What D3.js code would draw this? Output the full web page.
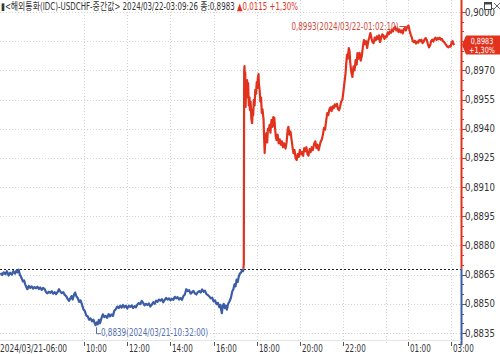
<!DOCTYPE html>
<html>
<head>
<meta charset="utf-8">
<script src="https://cdn.jsdelivr.net/npm/d3@7"></script>
<style>
  body { margin: 0; background: #fff; }
  svg { display: block; }
  text { font-family: "Liberation Sans Narrow", "DejaVu Sans Condensed", "Noto Sans CJK KR", sans-serif; font-size: 10px; }
</style>
</head>
<body>
<svg id="chart" width="500" height="354"></svg>
<script>
// 시각 (06시 이전은 22일)
var times = [
  "06:07","06:12","06:16","06:21","06:25","06:30","06:34","06:39","06:43","06:48","06:52","06:55","06:58","07:01","07:04","07:07","07:10","07:13","07:16","07:19",
  "07:22","07:26","07:30","07:34","07:38","07:42","07:46","07:50","07:54","07:58","08:02","08:06","08:10","08:14","08:18","08:22","08:26","08:30","08:34","08:38",
  "08:42","08:46","08:50","08:54","08:58","09:02","09:06","09:10","09:14","09:18","09:22","09:25","09:28","09:32","09:35","09:38","09:42","09:46","09:50","09:54",
  "09:58","10:02","10:06","10:10","10:14","10:18","10:22","10:26","10:29","10:32","10:35","10:38","10:41","10:44","10:48","10:52","10:56","11:00","11:04","11:08",
  "11:12","11:16","11:20","11:24","11:28","11:32","11:36","11:40","11:44","11:48","11:52","11:56","12:00","12:04","12:08","12:12","12:16","12:20","12:24","12:28",
  "12:32","12:36","12:40","12:44","12:48","12:52","12:56","13:00","13:04","13:08","13:12","13:16","13:20","13:24","13:28","13:32","13:36","13:40","13:44","13:48",
  "13:52","13:56","14:00","14:04","14:08","14:12","14:16","14:20","14:24","14:28","14:32","14:36","14:40","14:44","14:48","14:52","14:56","15:00","15:04","15:08",
  "15:12","15:16","15:20","15:24","15:28","15:32","15:36","15:40","15:44","15:48","15:52","15:56","16:00","16:04","16:08","16:12","16:16","16:19","16:21","16:23",
  "16:25","16:28","16:31","16:34","16:37","16:40","16:44","16:48","16:52","16:55","16:58","17:01","17:04","17:07","17:10","17:13","17:16","17:19","17:22","17:24",
  "17:25","17:26","17:27","17:28","17:29","17:30","17:32","17:33","17:35","17:36","17:38","17:40","17:41","17:43","17:45","17:47","17:49","17:50","17:52","17:54",
  "17:56","17:58","18:00","18:02","18:03","18:05","18:06","18:08","18:10","18:12","18:14","18:16","18:19","18:20","18:22","18:24","18:27","18:29","18:31","18:33",
  "18:36","18:38","18:41","18:44","18:46","18:49","18:51","18:53","18:55","18:58","19:01","19:04","19:07","19:10","19:13","19:16","19:20","19:23","19:26","19:28",
  "19:31","19:34","19:37","19:40","19:42","19:45","19:48","19:51","19:54","19:57","20:00","20:03","20:06","20:09","20:12","20:15","20:18","20:21","20:24","20:27",
  "20:30","20:33","20:36","20:40","20:43","20:46","20:49","20:52","20:55","20:58","21:01","21:04","21:07","21:10","21:13","21:16","21:19","21:22","21:25","21:28",
  "21:31","21:34","21:37","21:40","21:43","21:46","21:49","21:52","21:55","21:58","22:01","22:04","22:07","22:09","22:11","22:13","22:16","22:18","22:20","22:23",
  "22:26","22:29","22:32","22:35","22:38","22:40","22:43","22:46","22:49","22:52","22:55","22:58","23:01","23:04","23:07","23:10","23:13","23:16","23:19","23:22",
  "23:25","23:28","23:31","23:34","23:37","23:40","23:43","23:46","23:49","23:52","23:55","23:58","00:01","00:04","00:07","00:10","00:13","00:16","00:19","00:22",
  "00:25","00:28","00:31","00:34","00:37","00:40","00:43","00:46","00:49","00:52","00:55","00:58","01:02","01:05","01:08","01:11","01:14","01:17","01:20","01:23",
  "01:26","01:29","01:32","01:35","01:38","01:41","01:44","01:47","01:50","01:53","01:56","01:59","02:02","02:05","02:08","02:11","02:14","02:17","02:20","02:23",
  "02:26","02:29","02:32","02:35","02:38","02:41","02:44","02:47","02:50","02:53","02:56","02:59","03:02","03:05","03:07","03:09"
];
var prices = [
  0.88658,0.88648,0.88662,0.88652,0.88668,0.88645,0.88660,0.88650,0.88668,0.88655,0.88672,0.88662,0.88676,0.88650,0.88640,0.88628,0.88615,0.88620,0.88600,0.88588,
  0.88575,0.88592,0.88582,0.88590,0.88578,0.88586,0.88580,0.88588,0.88576,0.88584,0.88572,0.88582,0.88576,0.88560,0.88554,0.88562,0.88556,0.88565,0.88552,0.88560,
  0.88550,0.88560,0.88575,0.88562,0.88555,0.88560,0.88546,0.88540,0.88525,0.88515,0.88530,0.88540,0.88522,0.88548,0.88558,0.88540,0.88530,0.88510,0.88518,0.88496,
  0.88472,0.88462,0.88440,0.88435,0.88418,0.88425,0.88410,0.88418,0.88402,0.88390,0.88405,0.88395,0.88418,0.88400,0.88425,0.88446,0.88432,0.88438,0.88428,0.88447,
  0.88436,0.88445,0.88438,0.88465,0.88472,0.88486,0.88478,0.88490,0.88480,0.88494,0.88482,0.88490,0.88476,0.88490,0.88484,0.88492,0.88478,0.88488,0.88482,0.88496,
  0.88504,0.88498,0.88515,0.88505,0.88492,0.88500,0.88494,0.88502,0.88486,0.88495,0.88508,0.88500,0.88516,0.88510,0.88522,0.88516,0.88524,0.88508,0.88520,0.88530,
  0.88522,0.88528,0.88518,0.88526,0.88520,0.88536,0.88528,0.88534,0.88522,0.88530,0.88520,0.88540,0.88548,0.88575,0.88565,0.88570,0.88552,0.88560,0.88566,0.88554,
  0.88548,0.88560,0.88565,0.88558,0.88574,0.88562,0.88568,0.88550,0.88545,0.88538,0.88528,0.88532,0.88512,0.88518,0.88498,0.88505,0.88482,0.88495,0.88470,0.88452,
  0.88485,0.88500,0.88478,0.88490,0.88470,0.88498,0.88512,0.88530,0.88565,0.88575,0.88600,0.88590,0.88625,0.88612,0.88640,0.88655,0.88660,0.88672,0.88668,0.88705,
  0.89700,0.89722,0.89600,0.89690,0.89512,0.89620,0.89560,0.89650,0.89580,0.89635,0.89520,0.89560,0.89496,0.89540,0.89450,0.89429,0.89500,0.89470,0.89548,0.89520,
  0.89600,0.89580,0.89640,0.89610,0.89660,0.89681,0.89630,0.89599,0.89540,0.89560,0.89481,0.89500,0.89445,0.89380,0.89275,0.89350,0.89378,0.89330,0.89400,0.89393,
  0.89420,0.89380,0.89445,0.89410,0.89460,0.89455,0.89400,0.89360,0.89342,0.89370,0.89325,0.89345,0.89318,0.89335,0.89305,0.89325,0.89298,0.89330,0.89395,0.89410,
  0.89370,0.89385,0.89340,0.89300,0.89275,0.89290,0.89250,0.89239,0.89270,0.89255,0.89292,0.89268,0.89280,0.89260,0.89300,0.89285,0.89305,0.89270,0.89262,0.89295,
  0.89280,0.89305,0.89290,0.89325,0.89335,0.89300,0.89318,0.89290,0.89312,0.89335,0.89345,0.89370,0.89405,0.89395,0.89440,0.89480,0.89470,0.89500,0.89510,0.89490,
  0.89515,0.89505,0.89525,0.89515,0.89528,0.89500,0.89495,0.89515,0.89540,0.89548,0.89590,0.89640,0.89686,0.89740,0.89780,0.89760,0.89815,0.89800,0.89740,0.89690,
  0.89666,0.89720,0.89700,0.89753,0.89730,0.89789,0.89760,0.89790,0.89750,0.89772,0.89820,0.89856,0.89835,0.89850,0.89815,0.89850,0.89870,0.89892,0.89865,0.89845,
  0.89840,0.89868,0.89855,0.89875,0.89860,0.89880,0.89846,0.89868,0.89885,0.89880,0.89862,0.89875,0.89870,0.89895,0.89885,0.89900,0.89893,0.89910,0.89900,0.89918,
  0.89924,0.89905,0.89915,0.89898,0.89910,0.89895,0.89905,0.89890,0.89912,0.89918,0.89905,0.89922,0.89930,0.89905,0.89885,0.89870,0.89850,0.89845,0.89852,0.89838,
  0.89848,0.89842,0.89856,0.89850,0.89858,0.89840,0.89846,0.89860,0.89866,0.89855,0.89835,0.89818,0.89828,0.89850,0.89858,0.89848,0.89862,0.89868,0.89856,0.89866,
  0.89860,0.89868,0.89858,0.89862,0.89850,0.89845,0.89838,0.89830,0.89822,0.89818,0.89825,0.89822,0.89845,0.89850,0.89836,0.89830
];
var prevClose = 0.8868;
var yTicks = [0.8835,0.8850,0.8865,0.8880,0.8895,0.8910,0.8925,0.8940,0.8955,0.8970,0.8985,0.9000];
var xTickTimes = ["10:00","12:00","14:00","16:00","18:00","20:00","22:00","01:00","03:00"];
var xGridTimes = ["10:00","12:00","14:00","16:00","18:00","20:00","22:00","00:00","01:00","03:00"];

var RED = "#e2321e", BLUE = "#3b5ca6";
var fullParse = d3.timeParse("%d %H:%M");
function parse(s){ return fullParse((+s.slice(0, 2) < 6 ? "22 " : "21 ") + s); }
var fmt = function(v){ return d3.format(".4f")(v).replace(".", ","); };

// 좁은 글꼴 흉내 (가로 압축)
function put(g, px, py, k, str, anchor){
  return g.append("text")
    .attr("transform", "translate(" + px + "," + py + ") scale(" + k + ",1)")
    .attr("text-anchor", anchor || "start")
    .text(str);
}

var data = times.map(function(t, i){ return {t: parse(t), v: prices[i]}; });

var svg = d3.select("#chart");
var axisX = 461, plotBottom = 345;

var x = d3.scaleTime()
  .domain([parse("06:06"), parse("03:28")])
  .range([0, axisX]);
var y = d3.scaleLinear().domain([0.8835, 0.9000]).range([333, 12]);

var last = data[data.length - 1], ly = Math.round(y(last.v));

// grid
var grid = svg.append("g").attr("stroke", "#d4d4d4").attr("stroke-dasharray", "1,2");
grid.selectAll("line.h").data(yTicks).enter().append("line")
  .attr("x1", 0).attr("x2", axisX)
  .attr("y1", function(d){ return Math.round(y(d)) + 0.5; })
  .attr("y2", function(d){ return Math.round(y(d)) + 0.5; });
grid.selectAll("line.v").data(xGridTimes).enter().append("line")
  .attr("y1", 0).attr("y2", plotBottom)
  .attr("x1", function(d){ return Math.round(x(parse(d))) + 0.5; })
  .attr("x2", function(d){ return Math.round(x(parse(d))) + 0.5; });

// 전일종가 기준선
var yPrev = Math.round(y(prevClose)) + 0.5;
svg.append("line").attr("x1", 0).attr("x2", axisX).attr("y1", yPrev).attr("y2", yPrev)
  .attr("stroke", "#222").attr("stroke-dasharray", "2,2");

var defs = svg.append("defs");
defs.append("clipPath").attr("id", "up").append("rect")
  .attr("x", 0).attr("y", 0).attr("width", 500).attr("height", y(prevClose));
defs.append("clipPath").attr("id", "down").append("rect")
  .attr("x", 0).attr("y", y(prevClose)).attr("width", 500).attr("height", 354);

var line = d3.line().x(function(d){ return x(d.t); }).y(function(d){ return y(d.v); });
svg.append("path").datum(data).attr("d", line).attr("clip-path", "url(#down)")
  .attr("fill", "none").attr("stroke", BLUE).attr("stroke-width", 2.2).attr("stroke-linejoin", "round");
svg.append("path").datum(data).attr("d", line).attr("clip-path", "url(#up)")
  .attr("fill", "none").attr("stroke", RED).attr("stroke-width", 2.2).attr("stroke-linejoin", "round");

// y axis
svg.append("line").attr("x1", axisX + 0.5).attr("x2", axisX + 0.5).attr("y1", 0).attr("y2", y(prevClose))
  .attr("stroke", RED).attr("stroke-width", 2);
svg.append("line").attr("x1", axisX + 0.5).attr("x2", axisX + 0.5).attr("y1", y(prevClose)).attr("y2", plotBottom)
  .attr("stroke", BLUE).attr("stroke-width", 2);

var minor = d3.range(0.8835, 0.90001, 0.0005);
svg.selectAll("line.minor").data(minor).enter().append("line")
  .attr("x1", axisX + 1).attr("x2", axisX + 3)
  .attr("y1", function(d){ return Math.round(y(d)) + 0.5; })
  .attr("y2", function(d){ return Math.round(y(d)) + 0.5; })
  .attr("stroke", function(d){ return d > prevClose ? RED : BLUE; });

var yt = svg.append("g").attr("fill", "#333");
yt.selectAll("line").data(yTicks).enter().append("line")
  .attr("x1", axisX + 1).attr("x2", axisX + 5)
  .attr("y1", function(d){ return Math.round(y(d)) + 0.5; })
  .attr("y2", function(d){ return Math.round(y(d)) + 0.5; })
  .attr("stroke", function(d){ return d > prevClose ? RED : BLUE; });
// 현재가 라벨에 가려지는 눈금 글자는 생략
yTicks.filter(function(d){ return Math.abs(y(d) - ly) > 10; })
  .forEach(function(d){ put(yt, axisX + 4, y(d) + 3.5, 0.95, fmt(d)); });

// x axis
svg.append("line").attr("x1", 0).attr("x2", axisX).attr("y1", 340.5).attr("y2", 340.5)
  .attr("stroke", "#e6e6e6");
var xg = svg.append("g").attr("fill", "#333");
put(xg, 0, 352, 0.83, "2024/03/21-06:00");
xTickTimes.forEach(function(d){
  var px = Math.round(x(parse(d)));
  xg.append("line").attr("x1", px + 0.5).attr("x2", px + 0.5).attr("y1", 342).attr("y2", 346).attr("stroke", "#555");
  put(xg, px + 2, 352, 0.8, d);
});

// 최저 / 최고
var minD = data[d3.minIndex(data, function(d){ return d.v; })];
var maxD = data[d3.maxIndex(data, function(d){ return d.v; })];
var mx = Math.round(x(minD.t)), my = y(minD.v);
svg.append("path").attr("d", "M" + (mx + 0.5) + "," + (my + 2) + "V" + (my + 8.5) + "H" + (mx + 5))
  .attr("fill", "none").attr("stroke", "#5570b0");
put(svg, mx + 5, my + 11, 0.8, fmt(minD.v) + "(2024/03/21-10:32:00)").attr("fill", "#5570b0");
var Mx = x(maxD.t), My = Math.round(y(maxD.v));
svg.append("line").attr("x1", Mx - 9).attr("x2", Mx - 2).attr("y1", My + 0.5).attr("y2", My + 0.5)
  .attr("stroke", "#d04a3a");
put(svg, Mx - 10, My + 3.5, 0.8, fmt(maxD.v) + "(2024/03/22-01:02:10)", "end").attr("fill", "#d04a3a");

// 현재가 라벨
svg.append("path").attr("d", "M" + (axisX + 1) + "," + ly + "L" + (axisX + 5) + "," + (ly - 9.5) + "H500V" + (ly + 9.5) + "H" + (axisX + 5) + "Z")
  .attr("fill", RED);
put(svg, 482, ly - 1, 0.85, fmt(last.v), "middle").attr("fill", "#fff").style("font-size", "8.5px");
put(svg, 482, ly + 8, 0.85, "+1,30%", "middle").attr("fill", "#fff").style("font-size", "8.5px");

// 제목
var title = put(svg, 1, 10, 0.79, "").attr("fill", "#333");
title.append("tspan").text("▮<해외통화(IDC)-USDCHF-중간값> 2024/03/22-03:09:26 종:" + fmt(last.v) + " ");
title.append("tspan").attr("fill", RED).text("▲0,0115 +1,30%");

// 창 버튼
svg.append("rect").attr("x", 484.5).attr("y", 2.5).attr("width", 7).attr("height", 7).attr("fill", "#fff").attr("stroke", "#444");
svg.append("rect").attr("x", 484.5).attr("y", 2.5).attr("width", 7).attr("height", 2).attr("fill", "#444");
svg.append("path").attr("d", "M494,3L500,9M500,3L494,9").attr("stroke", "#666");
</script>
</body>
</html>
